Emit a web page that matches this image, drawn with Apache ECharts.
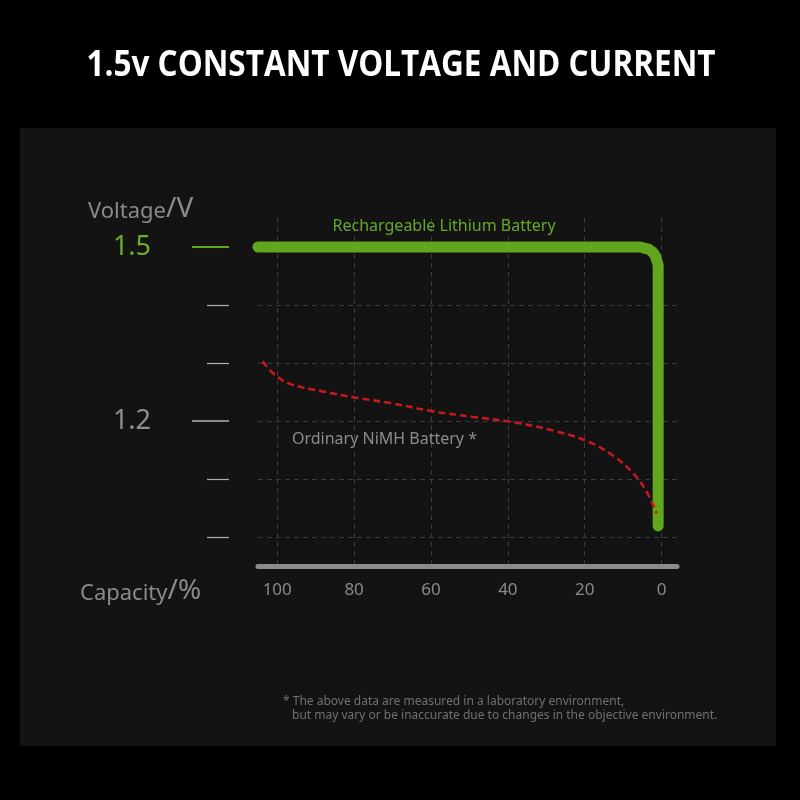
<!DOCTYPE html>
<html>
<head>
<meta charset="utf-8">
<script src="https://cdn.jsdelivr.net/npm/echarts@6/dist/echarts.min.js"></script>
<style>
  html, body { margin:0; padding:0; background:#000; }
  #panel { position:absolute; left:20px; top:128px; width:756px; height:618px; background:#131313; }
  #chart { position:absolute; left:0; top:0; width:800px; height:800px; }
</style>
</head>
<body>
<div id="panel"></div>
<div id="chart"></div>
<script>
// ---- data ----
const capacityTicks = [0, 20, 40, 60, 80, 100];
const voltageMinorTicks = [1.0, 1.1, 1.3, 1.4];
const voltageGrayLabels = [1.2];
const voltageGreenLabels = [1.5];

const lithiumCapacity = [105.0, 5.6, 3.3, 2.3, 1.6, 0.9, 0.9];
const lithiumVoltage  = [1.5, 1.5, 1.496, 1.491, 1.4845, 1.469, 1.019];

const nimhCapacity = [103.8, 101.0, 96.7, 88.1, 79.3, 70.6, 59.7, 49.0, 38.7, 27.3, 18.9, 12.6, 7.4, 3.9, 1.3];
const nimhVoltage  = [1.303, 1.282, 1.264, 1.251, 1.240, 1.231, 1.217, 1.207, 1.198, 1.182, 1.164, 1.140, 1.110, 1.078, 1.041];

const titleText = '1.5v CONSTANT VOLTAGE AND CURRENT';
const lithiumName = 'Rechargeable Lithium Battery';
const nimhName = 'Ordinary NiMH Battery *';
const lithiumLabelAt = [56.6, 1.536];
const nimhLabelAt = [72.1, 1.169];
const footnote1 = '* The above data are measured in a laboratory environment,';
const footnote2 = 'but may vary or be inaccurate due to changes in the objective environment.';

const GREEN = '#62a51f';
const FONT = 'Noto Sans';
const GRID = { left: 258, right: 123, top: 218, bottom: 234 };
const SPLIT = { type: [5, 4], color: '#3a3a3a', width: 1 };

const chart = echarts.init(document.getElementById('chart'));

function yAx(gridIndex, extra) {
  return Object.assign({
    gridIndex: gridIndex,
    type: 'value', min: 0.95, max: 1.55, position: 'left', offset: 29,
    axisLine: { show: false, onZero: false },
    splitLine: { show: false },
    axisLabel: { show: false }
  }, extra);
}
function hiddenX(gridIndex) {
  return { gridIndex: gridIndex, type: 'value', min: -4, max: 105, inverse: true, show: false,
    axisLine: { onZero: false } };
}

const richName = {
  a: { fontSize: 22, color: '#8a8a8a', fontFamily: FONT, fontWeight: 'normal', verticalAlign: 'bottom' },
  b: { fontSize: 28, color: '#8a8a8a', fontFamily: FONT, fontWeight: 'normal', verticalAlign: 'bottom' }
};

const option = {
  backgroundColor: 'transparent',
  animation: false,
  textStyle: { fontFamily: FONT },
  graphic: [
    { type: 'text', x: 401, y: 66, scaleX: 0.9, silent: true,
      style: { text: titleText, fill: '#ffffff', font: 'bold 35px "Open Sans"', align: 'center', verticalAlign: 'middle' } }
  ],
  title: [
    { text: '{a|Voltage}{b|/V}', left: 88, top: 195, padding: 0,
      textStyle: { fontWeight: 'normal', rich: richName } },
    { text: '{a|Capacity}{b|/%}', left: 80, top: 577, padding: 0,
      textStyle: { fontWeight: 'normal', rich: richName } },
    { text: footnote1, left: 283, top: 696, padding: 0,
      textStyle: { fontSize: 12, color: '#707070', fontWeight: 'normal', fontFamily: FONT } },
    { text: footnote2, left: 292, top: 710, padding: 0,
      textStyle: { fontSize: 12, color: '#707070', fontWeight: 'normal', fontFamily: FONT } }
  ],
  grid: [GRID, GRID, GRID],
  xAxis: [
    {
      gridIndex: 0, type: 'value', min: -4, max: 105, inverse: true,
      axisLine: { show: true, onZero: false, lineStyle: { color: '#8c8c8c', width: 5 } },
      axisTick: { show: false },
      axisLabel: { customValues: capacityTicks, color: '#8a8a8a', fontSize: 17, margin: 16, fontFamily: FONT },
      splitLine: { show: true, showMinLine: false, showMaxLine: false, lineStyle: SPLIT }
    },
    hiddenX(1), hiddenX(2)
  ],
  yAxis: [
    yAx(0, {
      axisTick: { show: true, customValues: voltageMinorTicks, length: 22, lineStyle: { color: '#b0b0b0', width: 1.2 } },
      splitLine: { show: true, showMinLine: true, showMaxLine: true, lineStyle: SPLIT }
    }),
    yAx(1, {
      axisTick: { show: true, customValues: voltageGrayLabels, length: 37, lineStyle: { color: '#b0b0b0', width: 1.5 } },
      axisLabel: { show: true, customValues: voltageGrayLabels, color: '#8f8f8f', fontSize: 27, margin: 78, fontFamily: FONT,
        formatter: v => v.toFixed(1) },
      splitLine: { show: true, showMinLine: true, showMaxLine: true, lineStyle: SPLIT }
    }),
    yAx(2, {
      axisTick: { show: true, customValues: voltageGreenLabels, length: 37, lineStyle: { color: GREEN, width: 1.8 } },
      axisLabel: { show: true, customValues: voltageGreenLabels, color: '#6aae2a', fontSize: 27, margin: 78, fontFamily: FONT,
        formatter: v => v.toFixed(1) }
    })
  ],
  series: [
    {
      name: lithiumName, type: 'line', xAxisIndex: 0, yAxisIndex: 0, clip: false, symbol: 'none', z: 3,
      data: lithiumCapacity.map((c, i) => [c, lithiumVoltage[i]]),
      lineStyle: { color: GREEN, width: 11, cap: 'round', join: 'round' },
      markPoint: {
        symbol: 'circle', symbolSize: 1, itemStyle: { color: 'rgba(0,0,0,0)' },
        label: { show: true, position: 'inside', color: '#66a82a', fontSize: 16, fontFamily: FONT, formatter: lithiumName },
        data: [{ coord: lithiumLabelAt }]
      }
    },
    {
      name: nimhName, type: 'line', xAxisIndex: 0, yAxisIndex: 0, clip: false, symbol: 'none', smooth: 0.4, z: 4,
      data: nimhCapacity.map((c, i) => [c, nimhVoltage[i]]),
      lineStyle: { color: '#c8171d', width: 2.6, type: [7, 4] },
      markPoint: {
        symbol: 'circle', symbolSize: 1, itemStyle: { color: 'rgba(0,0,0,0)' },
        label: { show: true, position: 'inside', color: '#8c8c8c', fontSize: 16, fontFamily: FONT, formatter: nimhName },
        data: [{ coord: nimhLabelAt }]
      }
    }
  ]
};
chart.setOption(option);
</script>
</body>
</html>
